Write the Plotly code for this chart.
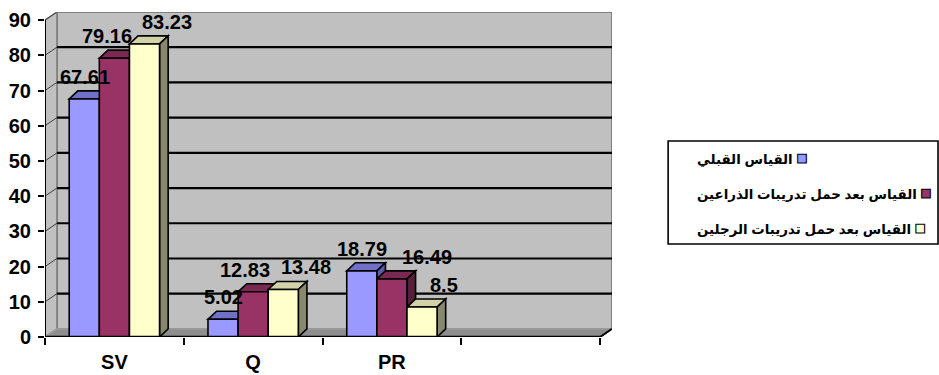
import plotly.graph_objects as go

# ---- data -------------------------------------------------------------
categories = ["SV", "Q", "PR"]
n_slots = 4  # the category axis keeps one empty slot on the right

series_names = [
    "القياس القبلي",
    "القياس بعد حمل تدريبات الذراعين",
    "القياس بعد حمل تدريبات الرجلين",
]
pre_values = [67.61, 5.02, 18.79]
arms_values = [79.16, 12.83, 16.49]
legs_values = [83.23, 13.48, 8.5]
y_tick_values = [0, 10, 20, 30, 40, 50, 60, 70, 80, 90]

series_values = [pre_values, arms_values, legs_values]

# ---- styling ----------------------------------------------------------
front_colors = ["#9999FF", "#993366", "#FFFFCC"]
top_colors = ["#7070C8", "#7A2952", "#D2D2A8"]
side_colors = ["#5A5AA6", "#55203C", "#88886E"]
FONT = "Arial, Liberation Sans, DejaVu Sans, sans-serif"
LABEL_SIZE = 20

BAR_W = 0.217          # width of one column (category units)
WALL_DX, WALL_DY = 0.086, 2.3   # depth of the chart box
BAR_DX, BAR_DY = 0.062, 2.3     # depth of each column
Y_MAX = y_tick_values[-1]

# plot-area size in pixels (used to keep value labels from colliding)
W, H = 939, 375
M_L, M_R, M_T, M_B = 45, 327, 12, 38

x_lo, x_hi = -0.5, n_slots - 0.5
x_range = [x_lo, x_hi + WALL_DX]
y_range = [0, Y_MAX + WALL_DY]
px_per_x = (W - M_L - M_R) / (x_range[1] - x_range[0])
px_per_y = (H - M_T - M_B) / (y_range[1] - y_range[0])

fig = go.Figure()

# front faces of the columns
for k, (name, vals) in enumerate(zip(series_names, series_values)):
    xs = [i + (k - 1) * BAR_W for i in range(len(categories))]
    fig.add_trace(go.Bar(
        x=xs, y=vals, width=BAR_W, name=name, showlegend=False,
        marker=dict(color=front_colors[k], line=dict(color="black", width=1.6)),
    ))

shapes = []


def poly(points):
    return "M " + " L ".join(f"{x},{y}" for x, y in points) + " Z"


# back wall
shapes.append(dict(type="rect", xref="x", yref="y", layer="below",
                   x0=x_lo + WALL_DX, x1=x_hi + WALL_DX,
                   y0=WALL_DY, y1=Y_MAX + WALL_DY,
                   fillcolor="#C0C0C0", line=dict(color="#808080", width=2)))
# left wall
shapes.append(dict(type="path", xref="x", yref="y", layer="below",
                   path=poly([(x_lo, 0), (x_lo + WALL_DX, WALL_DY),
                              (x_lo + WALL_DX, Y_MAX + WALL_DY), (x_lo, Y_MAX)]),
                   fillcolor="#C0C0C0", line=dict(color="#808080", width=1.5)))
# floor
shapes.append(dict(type="path", xref="x", yref="y", layer="below",
                   path=poly([(x_lo, 0), (x_hi, 0), (x_hi + WALL_DX, WALL_DY),
                              (x_lo + WALL_DX, WALL_DY)]),
                   fillcolor="#8E8E8E", line=dict(color="#A8A8A8", width=1)))
# gridlines on the back wall and their runs across the left wall
for v in y_tick_values[1:-1]:
    shapes.append(dict(type="line", xref="x", yref="y", layer="below",
                       x0=x_lo + WALL_DX, x1=x_hi + WALL_DX,
                       y0=v + WALL_DY, y1=v + WALL_DY,
                       line=dict(color="black", width=2.2)))
for v in y_tick_values[1:]:
    shapes.append(dict(type="line", xref="x", yref="y", layer="below",
                       x0=x_lo, x1=x_lo + WALL_DX, y0=v, y1=v + WALL_DY,
                       line=dict(color="#404040", width=1)))

# top and side faces of every column, left to right
for i in range(len(categories)):
    for k, vals in enumerate(series_values):
        v = vals[i]
        xc = i + (k - 1) * BAR_W
        x0, x1 = xc - BAR_W / 2, xc + BAR_W / 2
        shapes.append(dict(type="path", xref="x", yref="y", layer="below",
                           path=poly([(x0, v), (x1, v), (x1 + BAR_DX, v + BAR_DY),
                                      (x0 + BAR_DX, v + BAR_DY)]),
                           fillcolor=top_colors[k], line=dict(color="black", width=1.6)))
        shapes.append(dict(type="path", xref="x", yref="y", layer="below",
                           path=poly([(x1, 0), (x1 + BAR_DX, BAR_DY),
                                      (x1 + BAR_DX, v + BAR_DY), (x1, v)]),
                           fillcolor=side_colors[k], line=dict(color="black", width=1.6)))

# front axis lines
shapes.append(dict(type="line", xref="x", yref="y", layer="above",
                   x0=x_lo, x1=x_lo, y0=0, y1=Y_MAX, line=dict(color="black", width=2)))
shapes.append(dict(type="line", xref="x", yref="y", layer="above",
                   x0=x_lo, x1=x_hi, y0=0, y1=0, line=dict(color="black", width=2.5)))
shapes.append(dict(type="line", xref="x", yref="y", layer="above",
                   x0=x_hi, x1=x_hi + WALL_DX, y0=0, y1=WALL_DY,
                   line=dict(color="black", width=2)))


def text_width(s):
    # rough advance widths of bold digits / point, in pixels
    return sum((0.28 if ch == "." else 0.556) * LABEL_SIZE for ch in s)


annotations = []
# value labels above the columns; a label that would run into its left
# neighbour is pushed to the right
series_nudge = [-4, -12, 18]
LABEL_GAP = 15
LABEL_H = LABEL_SIZE + 2
for i in range(len(categories)):
    placed = []
    for k, vals in enumerate(series_values):
        v = vals[i]
        txt = f"{v:g}"
        xc = i + (k - 1) * BAR_W + BAR_DX / 2
        cx = xc * px_per_x + series_nudge[k]
        bottom = (v + BAR_DY) * px_per_y + 3
        w = text_width(txt)
        for (pl, pr, pb) in placed:
            if abs(pb - bottom) < LABEL_H and cx - w / 2 < pr + 2:
                cx = pr + LABEL_GAP + w / 2
        placed.append((cx - w / 2, cx + w / 2, bottom))
        annotations.append(dict(
            x=xc, y=v + BAR_DY, xref="x", yref="y",
            xshift=cx - xc * px_per_x, yshift=1,
            text=f"<b>{txt}</b>", showarrow=False, yanchor="bottom",
            font=dict(family=FONT, size=LABEL_SIZE, color="black")))

# legend box (key square sits after the right-to-left text)
legend_x0, legend_x1 = 1.099, 1.575
legend_y0, legend_y1 = 0.286, 0.603
legend_rows = [0.552, 0.444, 0.336]
legend_text_x = 1.146
shapes.append(dict(type="rect", xref="paper", yref="paper",
                   x0=legend_x0, x1=legend_x1, y0=legend_y0, y1=legend_y1,
                   fillcolor="white", line=dict(color="black", width=1.6)))
for k, name in enumerate(series_names):
    key_style = f"font-size:18px;color:{front_colors[k]};stroke:black;stroke-width:1.1px"
    annotations.append(dict(
        x=legend_text_x, y=legend_rows[k], xref="paper", yref="paper",
        xanchor="left", yanchor="middle", showarrow=False,
        text=f'<b>{name} </b><span style="{key_style}">■</span>',
        font=dict(family=FONT, size=13.4, color="black")))

fig.update_layout(
    width=W, height=H,
    margin=dict(l=M_L, r=M_R, t=M_T, b=M_B, autoexpand=False),
    paper_bgcolor="white", plot_bgcolor="white",
    barmode="overlay",
    shapes=shapes, annotations=annotations,
    xaxis=dict(
        range=x_range, automargin=False,
        tickvals=list(range(len(categories))),
        ticktext=[f"<b>{c}</b>" for c in categories],
        ticks="", showgrid=False, zeroline=False, showline=False,
        ticklabelstandoff=11,
        tickfont=dict(family=FONT, size=20, color="black"),
        minor=dict(tick0=-0.5, dtick=1, ticks="outside", ticklen=7,
                   tickwidth=2, tickcolor="black", showgrid=False),
        fixedrange=True,
    ),
    yaxis=dict(
        range=y_range, automargin=False,
        tickvals=y_tick_values,
        ticktext=[f"<b>{v}</b>" for v in y_tick_values],
        ticks="outside", ticklen=6, tickwidth=2,
        tickcolor="black", showgrid=False, zeroline=False, showline=False,
        ticklabelstandoff=3,
        tickfont=dict(family=FONT, size=20, color="black"),
        fixedrange=True,
    ),
    showlegend=False,
)

fig.write_html("out.html")
